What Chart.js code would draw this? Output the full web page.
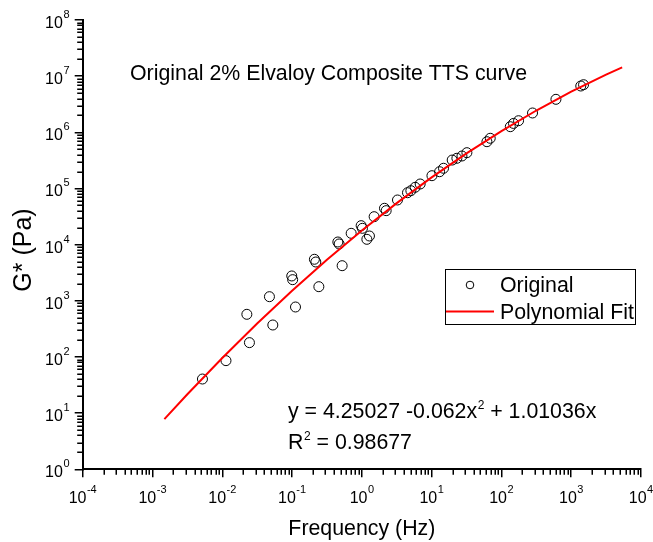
<!DOCTYPE html>
<html>
<head>
<meta charset="utf-8">
<title>Original 2% Elvaloy Composite TTS curve</title>
<script src="https://cdn.jsdelivr.net/npm/chart.js@4.4.1/dist/chart.umd.min.js"></script>
<style>
  body { margin: 0; background: #fff; }
  canvas { display: block; }
</style>
</head>
<body>
<canvas id="tts-chart" width="653" height="542"></canvas>
<script>
var freqHz = [0.0052, 0.0113, 0.0225, 0.0245, 0.0474, 0.053, 0.099, 0.102, 0.112, 0.209,
  0.219, 0.242, 0.453, 0.473, 0.522, 0.703, 0.977, 1.02, 1.18, 1.285,
  1.50, 2.11, 2.23, 3.24, 4.51, 5.04, 5.81, 6.85, 10.1, 13.0,
  14.8, 19.7, 23.0, 27.2, 32.0, 62.0, 69.1, 134, 149, 176,
  279, 604, 1371, 1503]
var gStarPa = [40.5, 86, 575, 180, 1185, 371, 2770, 2380, 776, 5490,
  4910, 1785, 11150, 10280, 4220, 15920, 21780, 19550, 12450, 14260,
  31470, 44400, 40300, 62400, 84100, 91400, 105000, 120200, 169000, 199000,
  229000, 321000, 345000, 379000, 434000, 681000, 783000, 1260000, 1440000, 1610000,
  2210000, 3870000, 6680000, 7050000]

// polynomial fit line
var fitFreqHz = [0.00148, 0.00316, 0.01, 0.0316, 0.1, 0.316, 1, 3.16, 10, 31.6, 100, 316, 1000, 3160, 5370]
var fitGStarPa = [7.84, 21.7, 95.9, 394, 1506, 5364, 17800, 54950, 158000, 423000, 1054000, 2447000, 5290000, 10640000, 14330000]

var xTickPowers = [-4, -3, -2, -1, 0, 1, 2, 3, 4]
var yTickPowers = [0, 1, 2, 3, 4, 5, 6, 7, 8]
var seriesLabels = ['Original', 'Polynomial Fit']
var xTitle = 'Frequency (Hz)'
var yTitle = 'G* (Pa)'
var chartNote = 'Original 2% Elvaloy Composite TTS curve'
var fitEquation = ['y = 4.25027 -0.062x', '2', ' + 1.01036x']
var fitR2 = ['R', '2', ' = 0.98677']

var fontFamily = '"Liberation Sans", Arial, sans-serif'

var decadeTicks = function(powers) {
  return powers.map(function(p) { return {value: Math.pow(10, p)} })
}

var minorValues = function(powers) {
  var values = []
  for (var i = 0; i < powers.length - 1; i++) {
    for (var k = 2; k <= 9; k++) values.push(k * Math.pow(10, powers[i]))
  }
  return values
}

// "10" with a raised exponent
var drawPowerLabel = function(ctx, p, x, y, align) {
  var exp = String(p)
  ctx.font = '16px ' + fontFamily
  var baseWidth = ctx.measureText('10').width
  ctx.font = '11px ' + fontFamily
  var expWidth = ctx.measureText(exp).width
  var left = align === 'right' ? x - baseWidth - expWidth - 0.5 : x - (baseWidth + expWidth + 0.5) / 2
  ctx.textAlign = 'left'
  ctx.font = '16px ' + fontFamily
  ctx.fillText('10', left, y)
  ctx.font = '11px ' + fontFamily
  ctx.fillText(exp, left + baseWidth + 0.5, y - 10)
}

var drawSupText = function(ctx, parts, x, y) {
  ctx.textAlign = 'left'
  ctx.font = '21.33px ' + fontFamily
  ctx.fillText(parts[0], x, y)
  x += ctx.measureText(parts[0]).width
  ctx.font = '12px ' + fontFamily
  ctx.fillText(parts[1], x + 0.5, y - 9)
  x += ctx.measureText(parts[1]).width + 0.5
  ctx.font = '21.33px ' + fontFamily
  ctx.fillText(parts[2], x, y)
}

var drawAxisExtras = function(chart) {
  var ctx = chart.ctx
  var xScale = chart.scales.x
  var yScale = chart.scales.y
  ctx.save()
  ctx.strokeStyle = '#000'
  ctx.fillStyle = '#000'
  ctx.lineWidth = 1.5

  // minor ticks
  ctx.beginPath()
  minorValues(xTickPowers).forEach(function(v) {
    var px = Math.round(xScale.getPixelForValue(v)) + 0.25
    ctx.moveTo(px, xScale.top)
    ctx.lineTo(px, xScale.top + 5.5)
  })
  minorValues(yTickPowers).forEach(function(v) {
    var py = Math.round(yScale.getPixelForValue(v)) + 0.25
    ctx.moveTo(yScale.right, py)
    ctx.lineTo(yScale.right - 5.5, py)
  })
  ctx.stroke()

  ctx.textBaseline = 'alphabetic'
  xTickPowers.forEach(function(p) {
    drawPowerLabel(ctx, p, xScale.getPixelForValue(Math.pow(10, p)), xScale.top + 34, 'center')
  })
  yTickPowers.forEach(function(p) {
    drawPowerLabel(ctx, p, 69.5, yScale.getPixelForValue(Math.pow(10, p)) + 8, 'right')
  })

  // y title, rotated
  ctx.translate(24, 250)
  ctx.rotate(-Math.PI / 2)
  ctx.textAlign = 'center'
  ctx.textBaseline = 'middle'
  ctx.font = '25px ' + fontFamily
  ctx.fillText(yTitle, 0, 0)
  ctx.restore()
}

var drawNotes = function(chart) {
  var ctx = chart.ctx
  ctx.save()
  ctx.fillStyle = '#000'
  ctx.textBaseline = 'alphabetic'
  ctx.textAlign = 'left'
  ctx.font = '21.33px ' + fontFamily
  ctx.fillText(chartNote, 130, 80)
  drawSupText(ctx, fitEquation, 288, 418)
  drawSupText(ctx, fitR2, 288, 449)
  ctx.restore()
}

var drawLegend = function(chart) {
  var ctx = chart.ctx
  var points = chart.data.datasets[0]
  var fit = chart.data.datasets[1]
  ctx.save()
  ctx.fillStyle = '#fff'
  ctx.fillRect(445.5, 269.5, 190, 55)
  ctx.strokeStyle = '#000'
  ctx.lineWidth = 1
  ctx.strokeRect(445.5, 269.5, 190, 55)

  ctx.beginPath()
  ctx.arc(470, 285, 3.8, 0, 2 * Math.PI)
  ctx.strokeStyle = points.borderColor
  ctx.lineWidth = points.borderWidth
  ctx.stroke()

  ctx.beginPath()
  ctx.moveTo(446, 311.5)
  ctx.lineTo(494, 311.5)
  ctx.strokeStyle = fit.borderColor
  ctx.lineWidth = fit.borderWidth
  ctx.stroke()

  ctx.fillStyle = '#000'
  ctx.font = '21.33px ' + fontFamily
  ctx.textAlign = 'left'
  ctx.textBaseline = 'alphabetic'
  ctx.fillText(points.label, 500, 292)
  ctx.fillText(fit.label, 500, 319)
  ctx.restore()
}

var extrasPlugin = {
  id: 'extras',
  afterDraw: function(chart) {
    drawAxisExtras(chart)
    drawNotes(chart)
    drawLegend(chart)
  }
}

var drawTtsChart = function() {
  var context = document.getElementById('tts-chart')

  var chartData = {
    datasets: [{
      label: seriesLabels[0],
      data: freqHz.map(function(f, i) { return {x: f, y: gStarPa[i]} }),
      showLine: false,
      pointStyle: 'circle',
      pointRadius: 5,
      pointBorderWidth: 1,
      borderWidth: 1,
      borderColor: '#000',
      pointBorderColor: '#000',
      backgroundColor: 'rgba(0,0,0,0)',
      pointBackgroundColor: 'rgba(0,0,0,0)',
      order: 2
    }, {
      label: seriesLabels[1],
      data: fitFreqHz.map(function(f, i) { return {x: f, y: fitGStarPa[i]} }),
      showLine: true,
      borderColor: '#ff0000',
      borderWidth: 2,
      pointRadius: 0,
      tension: 0,
      fill: false,
      order: 1
    }]
  }

  var chart = new Chart(context, {
    type: 'scatter',
    data: chartData,
    plugins: [extrasPlugin],
    options: {
      responsive: false,
      animation: false,
      events: [],
      layout: { padding: { top: 20, right: 12, left: 0, bottom: 0 } },
      plugins: {
        legend: { display: false },
        tooltip: { enabled: false }
      },
      scales: {
        x: {
          type: 'logarithmic',
          position: 'bottom',
          min: 1e-4,
          max: 1e4,
          afterBuildTicks: function(scale) { scale.ticks = decadeTicks(xTickPowers) },
          afterFit: function(scale) { scale.height = 72.7 },
          ticks: { display: false },
          grid: { drawOnChartArea: false, drawTicks: true, tickLength: 8, color: '#000', lineWidth: 1.5 },
          border: { display: true, color: '#000', width: 2 },
          title: {
            display: true,
            text: xTitle,
            color: '#000',
            font: { family: fontFamily, size: 21.33 },
            padding: { top: 0, bottom: 0 }
          }
        },
        y: {
          type: 'logarithmic',
          position: 'left',
          min: 1,
          max: 1e8,
          afterBuildTicks: function(scale) { scale.ticks = decadeTicks(yTickPowers) },
          afterFit: function(scale) { scale.width = 82.7 },
          ticks: { display: false },
          grid: { drawOnChartArea: false, drawTicks: true, tickLength: 8, color: '#000', lineWidth: 1.5 },
          border: { display: true, color: '#000', width: 2 }
        }
      }
    }
  })
}

drawTtsChart()
</script>
</body>
</html>
